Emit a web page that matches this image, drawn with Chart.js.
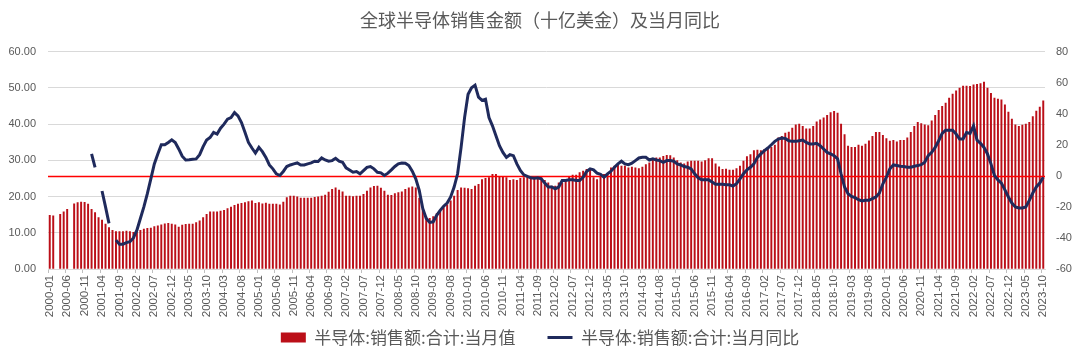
<!DOCTYPE html>
<html>
<head>
<meta charset="utf-8">
<script src="https://cdn.jsdelivr.net/npm/chart.js@4"></script>
<style>
  html, body { margin: 0; padding: 0; background: #fff; }
  #chart { display: block; }
</style>
</head>
<body>
<canvas id="chart" width="1080" height="361"></canvas>
<script>
// data ============================================================

const startYear = 2000;
const monthCount = 286; // 2000-01 .. 2023-10

const months = [];
for (let i = 0; i < monthCount; i++) {
    const y = startYear + Math.floor(i / 12);
    const m = (i % 12) + 1;
    months.push(y + "-" + (m < 10 ? "0" + m : m));
}

// 半导体:销售额:合计:当月值 (十亿美金)
const salesValue = [
    14.8, 14.7, null, 15.1, 15.8, 16.5, null, 18.0, 18.3, 18.5, 18.4, 17.9,
    16.5, 15.6, 14.2, 13.5, 12.4, 11.4, 10.7, 10.3, 10.3, 10.3, 10.5, 10.3,
    10.1, 10.3, 10.7, 11.0, 11.2, 11.3, 11.7, 11.9, 12.2, 12.5, 12.6, 12.4,
    12.2, 11.6, 12.1, 12.3, 12.4, 12.4, 12.8, 13.3, 14.2, 15.1, 15.8, 15.8,
    15.8, 16.0, 16.2, 16.7, 17.1, 17.6, 17.9, 18.1, 18.3, 18.6, 18.8, 18.1,
    18.3, 18.0, 18.2, 17.9, 17.9, 17.9, 17.7, 18.5, 19.7, 20.1, 20.1, 19.9,
    19.6, 19.6, 19.6, 19.6, 19.8, 19.9, 20.1, 20.4, 21.2, 22.0, 22.4, 21.8,
    21.3, 20.1, 20.1, 20.0, 20.1, 20.1, 20.6, 21.5, 22.4, 22.8, 22.9, 22.3,
    21.5, 20.4, 20.3, 20.8, 21.1, 21.3, 22.0, 22.4, 22.7, 22.4, 19.6, 16.5,
    14.3, 14.0, 14.5, 15.3, 16.0, 16.9, 17.7, 18.8, 20.1, 21.7, 22.4, 22.3,
    22.2, 22.0, 22.9, 23.4, 24.7, 25.0, 25.2, 26.1, 26.1, 25.6, 25.6, 25.2,
    24.5, 24.7, 24.5, 25.0, 25.2, 25.2, 25.4, 25.2, 25.4, 25.2, 24.5, 23.8,
    22.9, 22.9, 23.8, 23.8, 24.3, 25.6, 25.9, 25.9, 26.6, 27.0, 27.5, 27.5,
    25.2, 24.7, 25.6, 26.1, 26.3, 27.9, 28.4, 28.8, 28.4, 28.4, 27.9, 28.1,
    27.9, 27.7, 28.1, 28.8, 29.3, 30.5, 30.7, 30.7, 31.1, 31.4, 31.3, 30.7,
    29.9, 29.3, 29.0, 29.6, 29.8, 29.8, 29.8, 29.6, 29.9, 30.5, 30.5, 29.0,
    28.2, 27.5, 27.6, 27.3, 27.3, 27.7, 28.4, 29.8, 31.0, 31.6, 32.7, 32.8,
    32.7, 33.0, 33.2, 33.6, 34.2, 36.2, 36.6, 37.5, 37.8, 38.9, 39.8, 40.0,
    39.4, 38.7, 38.7, 39.4, 40.6, 41.2, 41.7, 42.4, 43.2, 43.5, 43.0, 40.0,
    37.1, 33.9, 33.6, 33.6, 34.2, 33.9, 34.5, 35.4, 36.6, 37.7, 37.7, 36.9,
    36.0, 35.3, 35.5, 35.1, 35.5, 35.5, 36.2, 37.7, 39.4, 40.5, 40.1, 39.8,
    39.6, 40.9, 42.4, 43.8, 44.9, 45.8, 47.2, 48.3, 49.2, 49.9, 50.5, 50.5,
    50.4, 50.8, 51.0, 51.2, 51.6, 49.9, 48.5, 47.2, 46.9, 46.7, 45.3, 43.3,
    41.4, 39.8, 39.4, 39.7, 40.0, 40.5, 42.1, 43.6, 44.7, 46.4
];

// 半导体:销售额:合计:当月同比 (%)
const salesYoY = [
    null, null, null, null, null, null, null, null, null, null, null, null,
    14.1, 5.5, null, -9.8, -20, -30.6, null, -41.4, -44, -44, -43, -42.4,
    -40, -35, -27.5, -20, -11.5, -2, 7.7, 14, 20, 20, 21.5, 23.2,
    21.5, 17.3, 12.6, 10.2, 10.4, 10.7, 10.9, 13.6, 18.8, 23, 24.7, 28,
    26.9, 30.7, 33.3, 36.5, 37.5, 40.7, 38.6, 34.3, 28, 21.5, 17.9, 14.7,
    18.3, 15.6, 11.9, 7, 4.5, 1.3, 0.2, 2.8, 6, 7, 7.7, 8.3,
    7, 7, 7.7, 8.3, 9.4, 9.2, 11.5, 10.2, 9.4, 9.8, 11.3, 9.4,
    8.7, 5.1, 3.8, 2.3, 2.8, 1.3, 3.4, 5.5, 6, 4.5, 2.3, 1.9,
    0.2, 1.7, 3.8, 6, 7.7, 8.3, 8.1, 6.6, 3, -1.9, -9.4, -21,
    -27.5, -30, -29.6, -25.4, -22.2, -19.6, -17.5, -13.6, -7.2, 1.3, 18.3, 37.5,
    52.5, 56.7, 58.4, 50.7, 48.6, 49.3, 37.5, 32.2, 25.8, 19.4, 15.1, 11.9,
    13.6, 13, 7.7, 3.4, 0.6, -0.4, -1.3, -1.5, -1.3, -1.9, -4.7, -7.2,
    -7.2, -8.3, -7.2, -3, -3, -2.6, -2.6, -3, -3, -0.9, 2.8, 4.5,
    3.8, 1.7, 0.9, -0.9, 1.3, 3, 5.5, 7.7, 9.4, 7.7, 7.2, 8.1,
    9.8, 11.5, 11.9, 11.9, 10.2, 10.9, 10.2, 9.8, 8.7, 9.8, 9.8, 9.4,
    7.7, 7, 6, 5.5, 4.5, 1.3, -1.3, -2.6, -2.6, -2.6, -4, -5.5,
    -5.5, -5.5, -5.8, -5.8, -6.6, -5.1, -1.9, 1.3, 3.8, 5.5, 7.7, 11.9,
    14.1, 16.2, 17.9, 20, 22.2, 23.7, 24.3, 24.1, 22.6, 22.2, 22.2, 22.6,
    23, 21.5, 20.5, 20.5, 20.9, 19.4, 17.3, 15.1, 14.1, 13, 10.9, 1.3,
    -7.2, -11.5, -13.2, -14.1, -15.4, -16.2, -15.8, -15.8, -14.7, -13.6, -11.1, -5.1,
    -0.9, 4.5, 7, 6.6, 6.2, 6, 5.5, 5.5, 6.2, 6.6, 7.2, 8.7,
    13, 15.1, 18.3, 22.6, 27.3, 29.4, 29.4, 29.4, 26.9, 23.7, 23.7, 27.9,
    27.3, 32.2, 23, 20.9, 18.3, 14.1, 7.7, 0.2, -2.6, -4.7, -9, -13.6,
    -17.5, -20, -20.7, -20.7, -20, -15.8, -11.1, -7.2, -4.7, -0.9
];

const labelEvery = 5;

// chart ===========================================================

const grey = "#595959";
const latin = "'Liberation Sans', Arial, sans-serif";
const cjk = "'Noto Sans CJK SC', 'Liberation Sans', sans-serif";

// red zero line of the right axis, above the bars but under the line
const zeroLine = {
    id: "zeroLine",
    afterLayout(chart) {
        // x labels may run down into the legend band, don't clip them
        chart.scales.x.bottom = chart.height;
    },
    afterDatasetDraw(chart, args) {
        if (args.index !== 0) return;
        const y = Math.round(chart.scales.y1.getPixelForValue(0)) + 0.5;
        const { left, right } = chart.chartArea;
        const ctx = chart.ctx;
        ctx.save();
        ctx.strokeStyle = "#ff0000";
        ctx.lineWidth = 1.5;
        ctx.beginPath();
        ctx.moveTo(left, y);
        ctx.lineTo(right, y);
        ctx.stroke();
        ctx.restore();
    }
};

const config = {
    data: {
        labels: months,
        datasets: [
            {
                type: "bar",
                label: "半导体:销售额:合计:当月值",
                data: salesValue,
                yAxisID: "y",
                backgroundColor: "#bb0f18",
                borderWidth: 0,
                barThickness: 1.3,
                pointStyle: "rect",
                order: 2
            },
            {
                type: "line",
                label: "半导体:销售额:合计:当月同比",
                data: salesYoY,
                yAxisID: "y1",
                borderColor: "#1f2a5c",
                backgroundColor: "#1f2a5c",
                borderWidth: 3,
                pointRadius: 0,
                pointStyle: "line",
                spanGaps: false,
                tension: 0,
                order: 1
            }
        ]
    },
    options: {
        responsive: false,
        animation: false,
        devicePixelRatio: 1,
        layout: { padding: { bottom: 5 } },
        plugins: {
            tooltip: { enabled: false },
            title: {
                display: true,
                text: "全球半导体销售金额（十亿美金）及当月同比",
                color: grey,
                font: { family: cjk, size: 18, weight: "normal" },
                padding: { top: 9, bottom: 21 }
            },
            legend: {
                position: "bottom",
                labels: {
                    usePointStyle: true,
                    pointStyleWidth: 25,
                    boxHeight: 10,
                    padding: 32,
                    color: grey,
                    font: { family: cjk, size: 17 },
                    sort: (a, b) => a.datasetIndex - b.datasetIndex
                }
            }
        },
        scales: {
            x: {
                type: "category",
                offset: true,
                afterFit(scale) { scale.height = 28; },
                border: { display: true, color: "#d9d9d9" },
                grid: {
                    offset: true,
                    drawOnChartArea: false,
                    drawTicks: true,
                    tickLength: 4,
                    color: (c) => (c.index % labelEvery === 0 ? "#bfbfbf" : "rgba(0,0,0,0)")
                },
                ticks: {
                    autoSkip: false,
                    maxRotation: 90,
                    minRotation: 90,
                    padding: 2,
                    color: grey,
                    font: { family: latin, size: 11.5 },
                    callback: function (value, index) {
                        return index % labelEvery === 0 ? this.getLabelForValue(value) : "";
                    }
                }
            },
            y: {
                position: "left",
                min: 0,
                max: 60,
                afterFit(scale) { scale.width = 48; },
                border: { display: false },
                grid: { color: "#d9d9d9", lineWidth: 1, drawTicks: false },
                ticks: {
                    stepSize: 10,
                    padding: 12,
                    color: grey,
                    font: { family: latin, size: 11 },
                    callback: (v) => v.toFixed(2)
                }
            },
            y1: {
                position: "right",
                min: -60,
                max: 80,
                afterFit(scale) { scale.width = 35; },
                border: { display: false },
                grid: { drawOnChartArea: false, drawTicks: false },
                ticks: {
                    stepSize: 20,
                    padding: 11,
                    color: grey,
                    font: { family: latin, size: 11 }
                }
            }
        }
    },
    plugins: [zeroLine]
};

const salesChart = new Chart(document.getElementById("chart"), config);
</script>
</body>
</html>
